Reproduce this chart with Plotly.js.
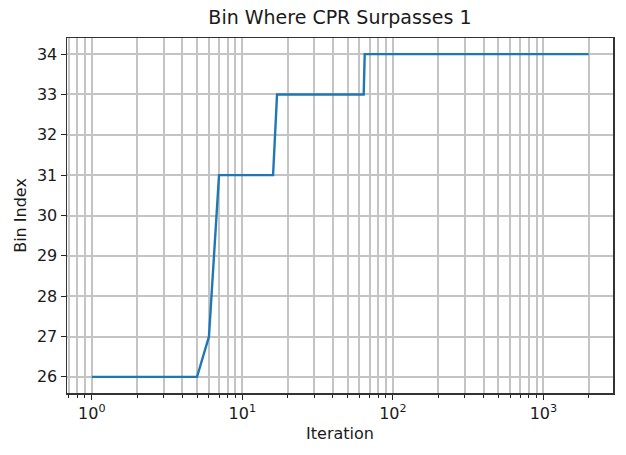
<!DOCTYPE html>
<html><head><meta charset="utf-8">
<script src="https://cdn.plot.ly/plotly-3.0.1.min.js"></script>
<style>html,body{margin:0;padding:0;background:#fff}</style>
</head><body>
<div id="chart" style="width:626px;height:455px"></div>
<script>
const iterations = [1, 5, 6, 7, 16, 17, 64, 65, 2000];
const binIndex   = [26, 26, 27, 31, 31, 33, 33, 34, 34];
const majorTicks = [1, 10, 100, 1000];
const majorLabels = ['10<sup>0</sup>', '10<sup>1</sup>', '10<sup>2</sup>', '10<sup>3</sup>'];
const yTicks = [26, 27, 28, 29, 30, 31, 32, 33, 34];

const minorTicks = [];
for (let d = -1; d <= 3; d++) {
  for (let m = 2; m <= 9; m++) {
    const v = m * Math.pow(10, d);
    if (v >= 0.69 && v <= 2950) minorTicks.push(v);
  }
}

const font = {family: 'DejaVu Sans', size: 16, color: '#1a1a1a'};
const trace = {
  x: iterations, y: binIndex, type: 'scatter', mode: 'lines',
  line: {color: '#1f77b4', width: 2.4}
};
const layout = {
  width: 626, height: 455,
  margin: {l: 67, r: 13, t: 38, b: 62},
  paper_bgcolor: '#fff', plot_bgcolor: '#fff',
  showlegend: false,
  font: font,
  title: {text: 'Bin Where CPR Surpasses 1', font: {family: 'DejaVu Sans', size: 19, color: '#1a1a1a'}, x: 0.543, xanchor: 'center', y: 0.976, yanchor: 'top'},
  xaxis: {
    type: 'log', range: [Math.log10(0.684), Math.log10(2900)],
    tickmode: 'array', tickvals: majorTicks, ticktext: majorLabels,
    ticks: 'outside', ticklen: 5, tickcolor: '#222', tickwidth: 1.2,
    showgrid: true, gridcolor: '#c4c4c4', gridwidth: 2,
    minor: {tickmode: 'array', tickvals: minorTicks, ticks: 'outside', ticklen: 3, tickcolor: '#222', tickwidth: 1, showgrid: true, gridcolor: '#c4c4c4', gridwidth: 2},
    showline: true, linecolor: '#333', linewidth: 1.5, mirror: true,
    zeroline: false,
    tickfont: font,
    title: {text: 'Iteration', font: font, standoff: 6}
  },
  yaxis: {
    range: [25.6, 34.4],
    tickmode: 'array', tickvals: yTicks,
    ticks: 'outside', ticklen: 5, tickcolor: '#222', tickwidth: 1.2,
    showgrid: true, gridcolor: '#c4c4c4', gridwidth: 2,
    showline: true, linecolor: '#333', linewidth: 1.5, mirror: true,
    zeroline: false,
    tickfont: font,
    title: {text: 'Bin Index', font: font, standoff: 6}
  }
};
Plotly.newPlot('chart', [trace], layout, {staticPlot: true, displayModeBar: false});
</script>
</body></html>
